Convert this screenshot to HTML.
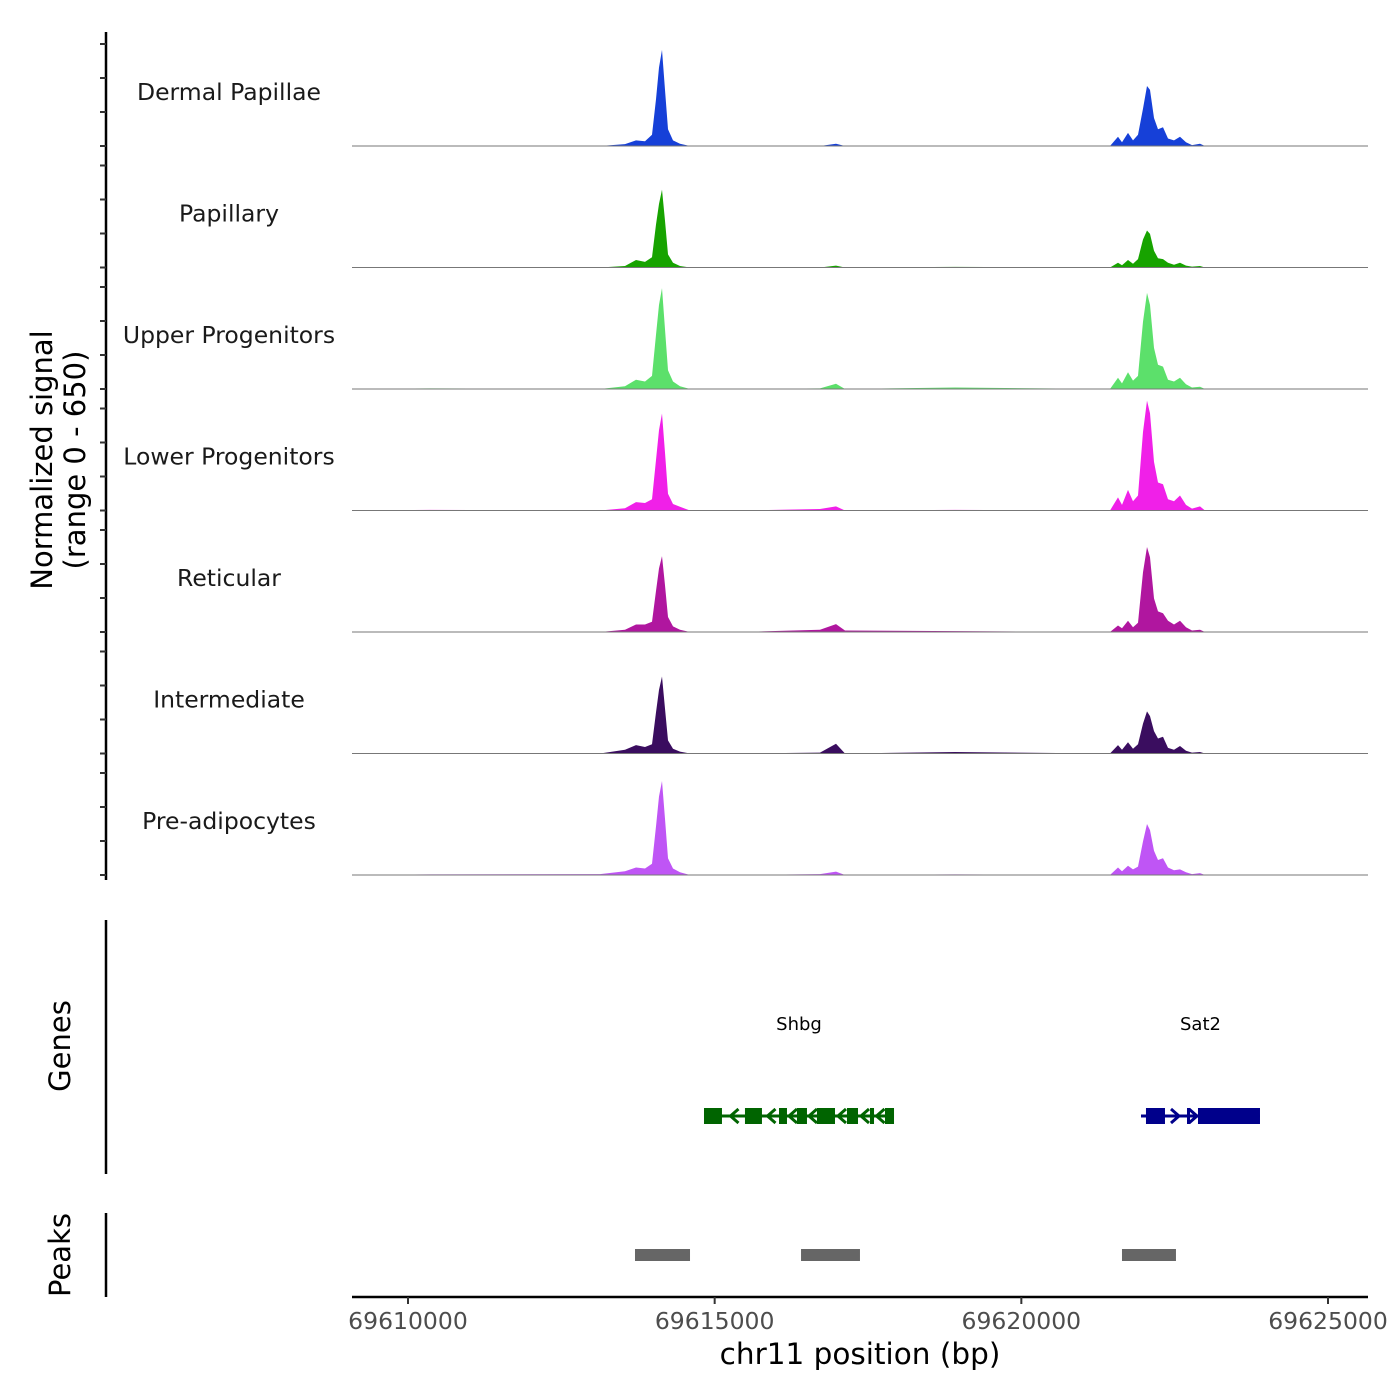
<!DOCTYPE html>
<html><head><meta charset="utf-8"><style>
html,body{margin:0;padding:0;background:#fff}
svg{display:block;font-family:"DejaVu Sans","Liberation Sans",sans-serif}
</style></head><body>
<svg id="chart" width="1400" height="1400" viewBox="0 0 1400 1400"></svg>
<script>
const trackNames=["Dermal Papillae","Papillary","Upper Progenitors","Lower Progenitors","Reticular","Intermediate","Pre-adipocytes"];
const trackColors=["#1640d8","#17a300","#5ce06b","#f020e8","#b0169f","#3a0d5f","#bf55f5"];
const positions=[69609087,69610359,69613130,69613538,69613717,69613864,69613978,69614043,69614092,69614141,69614190,69614239,69614321,69614435,69614598,69615413,69616717,69616978,69617125,69618918,69621445,69621576,69621641,69621739,69621820,69621902,69621983,69622049,69622097,69622163,69622228,69622310,69622391,69622489,69622587,69622684,69622782,69622913,69622994,69623483,69624918,69625652];
const sigDermal=[0,2,0,10,30,25,60,250,420,514,300,90,30,12,0,0,0,12,0,0,0,50,20,70,30,60,200,321,300,150,90,100,40,30,50,20,5,12,0,0,0,0];
const sigPapillary=[0,0,0,8,40,30,55,230,340,417,250,70,25,8,0,0,0,10,0,3,0,25,12,40,20,45,150,198,180,90,50,45,25,15,25,10,5,8,0,0,0,0];
const sigUpper=[0,3,0,15,50,40,70,290,450,540,320,100,40,15,0,0,3,28,0,8,0,60,30,90,45,70,360,514,450,220,130,120,50,40,60,25,8,12,0,0,0,0];
const sigLower=[0,3,0,12,45,40,60,270,430,519,310,90,35,20,0,0,8,22,0,3,0,70,30,110,50,80,420,588,520,260,150,140,60,50,80,30,10,22,0,0,0,0];
const sigReticular=[0,2,0,12,40,40,55,220,340,406,250,80,30,12,0,0,12,42,8,5,0,35,20,60,25,50,320,455,400,180,110,100,60,40,60,25,8,12,0,0,0,0];
const sigIntermediate=[0,2,0,20,45,35,50,220,340,412,240,70,25,10,0,0,5,52,0,8,0,45,20,60,25,50,160,225,200,120,80,90,30,20,40,15,5,8,0,0,0,0];
const sigPreadipo=[0,3,5,20,40,35,60,260,420,503,300,90,35,15,0,0,5,18,0,3,0,40,20,50,30,45,180,273,240,130,80,90,40,25,30,15,5,10,0,0,0,0];
const signals=[sigDermal,sigPapillary,sigUpper,sigLower,sigReticular,sigIntermediate,sigPreadipo];
const xTicks=[69610000,69615000,69620000,69625000];
const shbgExons=[[69614826,69615119],[69615494,69615771],[69616049,69616179],[69616342,69616505],[69616668,69616962],[69617157,69617337],[69617532,69617598],[69617777,69617924]];
const shbgSpan=[69614826,69617924];
const sat2Exons=[[69622032,69622342],[69622701,69622750],[69622880,69623891]];
const sat2Span=[69621951,69623891];
const peakRanges=[[69613701,69614598],[69616408,69617369],[69621641,69622521]];
const yMax=650;

const svg=document.getElementById('chart');
const NS="http://www.w3.org/2000/svg";
function el(tag,attrs,parent){const e=document.createElementNS(NS,tag);for(const k in attrs)e.setAttribute(k,attrs[k]);(parent||svg).appendChild(e);return e;}
const xMinBp=69609087,xMaxBp=69625652,px0=352,px1=1368;
function xs(bp){return px0+(bp-xMinBp)/(xMaxBp-xMinBp)*(px1-px0);}
const trackH=121.5,base0=146;
function ys(v,i){return base0+i*trackH - v/yMax*trackH;}

let a=el('line',{x1:106,y1:32,x2:106,y2:880,stroke:'#000','stroke-width':2.5});

for(let i=0;i<7;i++){for(let k=0;k<4;k++){const y=base0+i*trackH-k*34;
 const t=el('line',{x1:100,y1:y,x2:106,y2:y,stroke:'#333','stroke-width':2});
 }}
const yt=el('text',{transform:'translate(52,460) rotate(-90)','text-anchor':'middle','font-size':29,fill:'#000'});

yt.innerHTML='<tspan x="0" dy="0">Normalized signal</tspan><tspan x="0" dy="33">(range 0 - 650)</tspan>';

for(let i=0;i<7;i++){
 const b=base0+i*trackH;
 let d='M'+xs(positions[0])+','+b;
 positions.forEach((p,j)=>{d+=' L'+xs(p).toFixed(1)+','+ys(signals[i][j],i).toFixed(1);});
 d+=' L'+xs(positions[positions.length-1])+','+b+' Z';
 const ar=el('path',{d:d,fill:trackColors[i]});
 
 const bl=el('line',{x1:px0,y1:b,x2:px1,y2:b,stroke:'#777','stroke-width':1});
 
 const lb=el('text',{x:229,y:b-46,'text-anchor':'middle','font-size':23.5,fill:'#1a1a1a'});
 lb.textContent=trackNames[i];
 
}

a=el('line',{x1:106,y1:920,x2:106,y2:1174,stroke:'#000','stroke-width':2.5});

let t=el('text',{transform:'translate(70,1046) rotate(-90)','text-anchor':'middle','font-size':29});t.textContent='Genes';

function gene(name,span,exons,col,dir){
 const g=el('g',{});
 el('line',{x1:xs(span[0]),y1:1116,x2:xs(span[1]),y2:1116,stroke:col,'stroke-width':3},g);
 exons.forEach(e=>{const r=el('rect',{x:xs(e[0]),y:1108,width:Math.max(3,xs(e[1])-xs(e[0])),height:16,fill:col},g);
  });
 for(let k=0;k<exons.length-1;k++){const mx=(xs(exons[k][1])+xs(exons[k+1][0]))/2;
  el('path',{d:dir<0?`M${mx+5},1109 L${mx-3},1116 L${mx+5},1123`:`M${mx-5},1109 L${mx+3},1116 L${mx-5},1123`,stroke:col,'stroke-width':3,fill:'none'},g);}
 const lx=(xs(span[0])+xs(span[1]))/2;
 const l=el('text',{x:lx,y:1030,'text-anchor':'middle','font-size':18},g);l.textContent=name;
 
}
gene('Shbg',shbgSpan,shbgExons,'#006400',-1);
gene('Sat2',sat2Span,sat2Exons,'#00008b',1);

a=el('line',{x1:106,y1:1213,x2:106,y2:1297,stroke:'#000','stroke-width':2.5});

t=el('text',{transform:'translate(70,1255) rotate(-90)','text-anchor':'middle','font-size':29});t.textContent='Peaks';

peakRanges.forEach(p=>{const r=el('rect',{x:xs(p[0]),y:1249,width:xs(p[1])-xs(p[0]),height:12,fill:'#666'});
 });

a=el('line',{x1:px0,y1:1297,x2:px1,y2:1297,stroke:'#000','stroke-width':2.5});

xTicks.forEach(v=>{const x=xs(v);
 const tk=el('line',{x1:x,y1:1297,x2:x,y2:1304,stroke:'#333','stroke-width':2});
 
 const tl=el('text',{x:x,y:1329,'text-anchor':'middle','font-size':23.5,fill:'#4d4d4d'});tl.textContent=v;
 });
t=el('text',{x:860,y:1364,'text-anchor':'middle','font-size':29.5});t.textContent='chr11 position (bp)';

</script>
</body></html>
